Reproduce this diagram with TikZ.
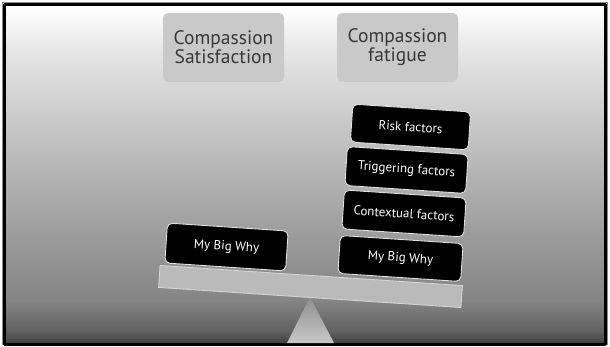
\documentclass[tikz,border=0pt]{standalone}
\usepackage{fontspec}
\setmainfont{PT Sans}
\usetikzlibrary{shadings}

% backdrop: white at the top, mid grey, darker band at the foot
\pgfdeclareverticalshading{slidebg}{100bp}{color(0bp)=(black!76); color(25bp)=(black!76);
  color(27bp)=(black!62); color(31.5bp)=(black!48); color(39bp)=(black!41);
  color(53.5bp)=(black!26); color(68bp)=(black!10); color(74.5bp)=(white); color(100bp)=(white)}

\begin{document}
\begin{tikzpicture}[x=1pt, y=-1pt, line join=round,
    heading/.style={fill=black!21, rounded corners=5pt, minimum width=121pt, minimum height=69pt,
      align=center, text=black!78, font=\fontsize{19.5}{19}\selectfont, inner sep=2pt},
    weight/.style={fill=black, draw=black!12, line width=0.9pt, rounded corners=5pt,
      minimum width=120pt, minimum height=39pt, text=white, rotate=-3.8,
      font=\fontsize{13}{14}\selectfont, inner sep=2pt}]
  \useasboundingbox (0,0) rectangle (610,347);
  % slide backdrop and frame
  \shade[shading=slidebg] (4.5,4.5) rectangle (605.5,344.5);
  \draw[black!45, line width=0.8pt] (2.6,2.6) rectangle (607.4,344.6);
  \draw[black, line width=3pt] (4.5,4.5) rectangle (605.5,344.5);
  % the two pans
  \node[heading] (sat) at (223.5,47.5) {Compassion\\Satisfaction};
  \node[heading] (fat) at (397.5,47.5) {Compassion\\fatigue};
  % fulcrum and beam
  \shade[top color=black!44, bottom color=black!22] (310,297) -- (334,343) -- (287,343) -- cycle;
  \node[fill=black!27, draw=black!17, line width=0.9pt, minimum width=303pt, minimum height=22pt,
    rotate=-3.8, inner sep=0pt] (beam) at (310.5,286.5) {};
  % left load
  \node[weight, minimum width=121pt, minimum height=40pt] (whyl) at (226.5,247) {My Big Why};
  % right load, stacked
  \node[weight, minimum width=123pt, minimum height=38pt] (whyr) at (400.5,258.5) {My Big Why};
  \node[weight, minimum width=122pt] (ctx) at (404,213.5) {Contextual factors};
  \node[weight, minimum width=121pt] (trig) at (406.5,170) {Triggering factors};
  \node[weight, minimum width=118pt, minimum height=38pt] (risk) at (410.5,127) {Risk factors};
\end{tikzpicture}
\end{document}
